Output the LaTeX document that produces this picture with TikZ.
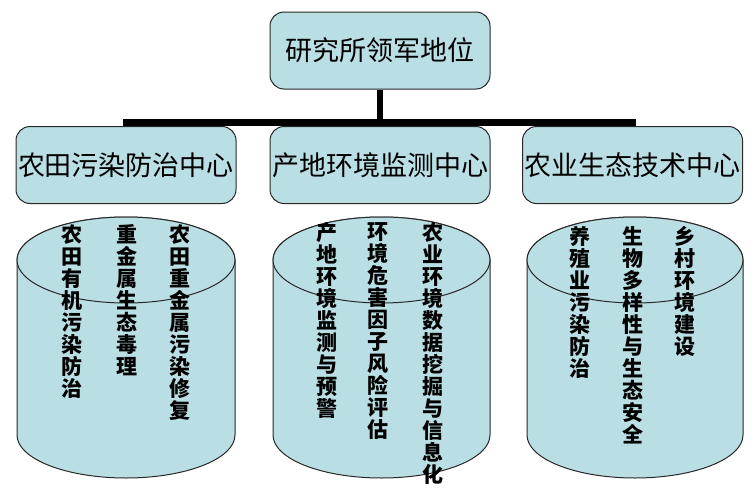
\documentclass[tikz,border=0pt]{standalone}
\usepackage{fontspec}
\newfontfamily\cjk{Noto Sans CJK SC}
\definecolor{boxfill}{RGB}{185,222,227}
\definecolor{boxline}{RGB}{40,40,40}
\tikzset{
  orgbox/.style={draw=boxline, line width=1pt, fill=boxfill, rounded corners=14pt,
    minimum width=220pt, minimum height=77pt, inner sep=0pt,
    font=\cjk\fontsize{27}{30}\selectfont},
  conn/.style={line width=6.5pt, line join=miter, black},
  cyl/.style={draw=boxline, line width=1pt, fill=boxfill},
  col/.style={anchor=north, align=center, inner sep=0pt,
    font=\cjk\bfseries\fontsize{21}{22}\selectfont}
}
\begin{document}
\begin{tikzpicture}[x=1pt,y=-1pt]
\useasboundingbox (0,0) rectangle (756,493);
% boxes
\node[orgbox] (top) at (380,50.5) {研究所领军地位};
\node[orgbox] (c1) at (126,165) {农田污染防治中心};
\node[orgbox] (c2) at (380,165) {产地环境监测中心};
\node[orgbox] (c3) at (632.5,165) {农业生态技术中心};
\coordinate (j) at (380,122.5);
\draw[conn] (top.south) -- (top.south |- j);
\draw[conn] (c1.north) -- (c1.north |- j) -- (c3.north |- j) -- (c3.north);
\draw[conn] (c2.north |- j) -- (c2.north);
% cylinders
\foreach \cx/\rx in {126/109, 381.5/108.5, 635/108}{
  \path[cyl] (\cx-\rx,260) -- (\cx-\rx,435) arc[start angle=180, end angle=360, x radius=\rx, y radius=-43]
     -- (\cx+\rx,260) arc[start angle=0, end angle=180, x radius=\rx, y radius=-43] -- cycle;
  \draw[cyl] (\cx,260) ellipse[x radius=\rx, y radius=43];
}
% column texts
\node[col] (l1) at (72,224) {农\\田\\有\\机\\污\\染\\防\\治};
\node[col] (l2) at (127,224) {重\\金\\属\\生\\态\\毒\\理};
\node[col] (l3) at (180,224) {农\\田\\重\\金\\属\\污\\染\\修\\复};
\node[col] (m1) at (327,222) {产\\地\\环\\境\\监\\测\\与\\预\\警};
\node[col] (m2) at (378,222) {环\\境\\危\\害\\因\\子\\风\\险\\评\\估};
\node[col] (m3) at (433,222) {农\\业\\环\\境\\数\\据\\挖\\掘\\与\\信\\息\\化};
\node[col] (r1) at (580,226) {养\\殖\\业\\污\\染\\防\\治};
\node[col] (r2) at (633,226) {生\\物\\多\\样\\性\\与\\生\\态\\安\\全};
\node[col] (r3) at (685,226) {乡\\村\\环\\境\\建\\设};
\end{tikzpicture}
\end{document}
